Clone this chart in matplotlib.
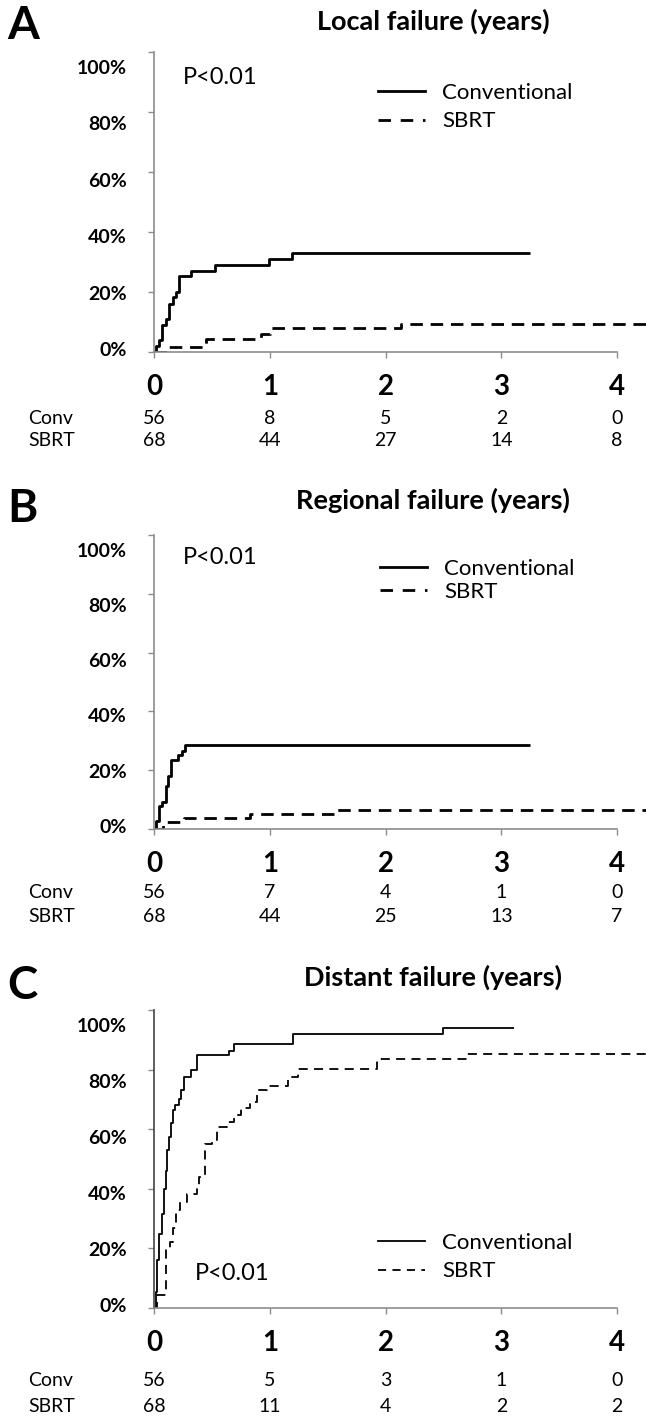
import matplotlib
matplotlib.use('Agg')
import matplotlib.pyplot as plt
from matplotlib.lines import Line2D

plt.rcParams['font.family'] = ['Lato', 'DejaVu Sans']

W, H = 646, 1421

# cumulative incidence (%), step values start at the given time (years)
local_conv_t = [0, 0.02, 0.04, 0.07, 0.10, 0.13, 0.16, 0.19, 0.22, 0.32, 0.53, 0.99, 1.19, 3.25]
local_conv_v = [0, 2, 4, 9, 11, 16, 18.5, 20, 25.5, 27, 29, 31, 33, 33]
local_sbrt_t = [0, 0.12, 0.45, 0.92, 1.0, 2.13, 4.3]
local_sbrt_v = [0, 1.7, 4.5, 6, 8, 9.5, 9.5]

reg_conv_t = [0, 0.018, 0.04, 0.07, 0.10, 0.12, 0.144, 0.21, 0.24, 0.264, 3.25]
reg_conv_v = [0, 2.6, 7.7, 9.2, 14.5, 18, 23.5, 25.2, 26.5, 28.6, 28.6]
reg_sbrt_t = [0, 0.08, 0.26, 0.83, 1.58, 4.3]
reg_sbrt_v = [0, 2.3, 3.7, 5.2, 6.6, 6.6]

dist_conv_t = [0, 0.015, 0.03, 0.045, 0.07, 0.084, 0.10, 0.11, 0.13, 0.145, 0.16, 0.18,
               0.22, 0.235, 0.256, 0.32, 0.37, 0.65, 0.69, 1.2, 2.5, 3.11]
dist_conv_v = [0, 5.5, 16, 25, 31.7, 40, 46, 53, 57.4, 62, 66.4, 68,
               70, 73, 77.5, 79.8, 84.8, 86.3, 88.5, 92, 94, 94]
dist_sbrt_t = [0, 0.024, 0.105, 0.136, 0.166, 0.19, 0.226, 0.286, 0.37, 0.39, 0.437, 0.497,
               0.54, 0.633, 0.69, 0.75, 0.83, 0.89, 0.98, 1.16, 1.24, 1.93, 2.70, 4.3]
dist_sbrt_v = [0, 4.4, 19.4, 22, 27, 33, 35.6, 38.4, 40, 44, 55, 56.3,
               60.8, 62.5, 64.7, 67, 69.2, 73, 74.4, 77.5, 80.3, 83.7, 85.4, 85.4]

years = [0, 1, 2, 3, 4]
yticks = [0, 20, 40, 60, 80, 100]

local_risk_conv = [56, 8, 5, 2, 0]
local_risk_sbrt = [68, 44, 27, 14, 8]
reg_risk_conv = [56, 7, 4, 1, 0]
reg_risk_sbrt = [68, 44, 25, 13, 7]
dist_risk_conv = [56, 5, 3, 1, 0]
dist_risk_sbrt = [68, 11, 4, 2, 2]

labels = ['Conventional', 'SBRT']


def fx(px):
    return px / W


def fy(py):
    return 1 - py / H


fig = plt.figure(figsize=(W / 100, H / 100), dpi=100)

panels = [
    dict(letter='A', title='Local failure (years)',
         conv=(local_conv_t, local_conv_v), sbrt=(local_sbrt_t, local_sbrt_v),
         risk=(local_risk_conv, local_risk_sbrt), top=52, bottom=352,
         letter_y=26, title_y=21, p=(183, 77), leg=(378, 83), lsp=0.38,
         rows=(66, 88), lw=2.0, spine='#8c8c8c'),
    dict(letter='B', title='Regional failure (years)',
         conv=(reg_conv_t, reg_conv_v), sbrt=(reg_sbrt_t, reg_sbrt_v),
         risk=(reg_risk_conv, reg_risk_sbrt), top=535, bottom=829,
         letter_y=509, title_y=500, p=(183, 558), leg=(380, 559), lsp=0.12,
         rows=(64, 88), lw=2.0, spine='#8c8c8c'),
    dict(letter='C', title='Distant failure (years)',
         conv=(dist_conv_t, dist_conv_v), sbrt=(dist_sbrt_t, dist_sbrt_v),
         risk=(dist_risk_conv, dist_risk_sbrt), top=1010, bottom=1308,
         letter_y=986, title_y=977, p=(195, 1273), leg=(378, 1233), lsp=0.38,
         rows=(73, 99), lw=1.3, spine='#444444'),
]

for pn in panels:
    ax = fig.add_axes([fx(154), fy(pn['bottom']), fx(646 - 154),
                       (pn['bottom'] - pn['top']) / H])
    ax.set_xlim(0, 4.25)
    ax.set_ylim(0, 100)

    ax.plot(*pn['conv'], drawstyle='steps-post', color='black', lw=pn['lw'],
            solid_capstyle='butt')
    ax.plot(*pn['sbrt'], drawstyle='steps-post', color='black', lw=pn['lw'],
            linestyle=(0, (4.5, 2.8)) if pn['lw'] > 1.5 else (0, (5, 3.5)))

    for s in ['top', 'right']:
        ax.spines[s].set_visible(False)
    ax.spines['left'].set_bounds(0, 100)
    ax.spines['bottom'].set_bounds(0, 4)
    ax.spines['left'].set_color(pn['spine'])
    ax.spines['bottom'].set_color('#8c8c8c')
    ax.spines['left'].set_linewidth(1.2)
    ax.spines['bottom'].set_linewidth(1.2)

    ax.set_xticks(years)
    ax.set_xticklabels([str(y) for y in years], fontsize=20, fontweight='bold')
    ax.tick_params(axis='x', direction='out', length=4, width=1.0,
                   colors='#8c8c8c', labelcolor='black', pad=12)
    ax.set_yticks(yticks)
    ax.set_yticklabels([])
    ax.tick_params(axis='y', direction='out', length=4, width=1.0,
                   colors='#8c8c8c')

    # y labels (drawn slightly compressed, as in the original)
    for v in yticks:
        ax.annotate(f'{v}%', xy=(0, v * 0.94 + 0.5), xycoords='data',
                    xytext=(-19.5, 0), textcoords='offset points',
                    ha='right', va='center', fontsize=14, fontweight='bold')

    # numbers at risk
    for row, dy, name in zip(pn['risk'], pn['rows'], ['Conv', 'SBRT']):
        fig.text(fx(28), fy(pn['bottom'] + dy), name, fontsize=14,
                 ha='left', va='center')
        for x, n in zip(years, row):
            ax.annotate(str(n), xy=(x, 0), xycoords=('data', 'axes fraction'),
                        xytext=(0, -dy * 0.72), textcoords='offset points',
                        ha='center', va='center', fontsize=14)

    fig.text(fx(7), fy(pn['letter_y']), pn['letter'], fontsize=33,
             fontweight='bold', ha='left', va='center')
    fig.text(fx(433), fy(pn['title_y']), pn['title'], fontsize=19.5,
             fontweight='bold', ha='center', va='center')
    fig.text(fx(pn['p'][0]), fy(pn['p'][1]), 'P<0.01', fontsize=17,
             ha='left', va='center')

    handles = [Line2D([], [], color='black', lw=pn['lw']),
               Line2D([], [], color='black', lw=pn['lw'], linestyle=(0, (4.5, 3.5)))]
    ax.legend(handles, labels, loc='upper left',
              bbox_to_anchor=(fx(pn['leg'][0]), fy(pn['leg'][1])),
              bbox_transform=fig.transFigure, frameon=False, fontsize=16,
              handlelength=2.1, handletextpad=0.8, labelspacing=pn['lsp'],
              borderpad=0, borderaxespad=0)

fig.savefig('out.png', dpi=100)
